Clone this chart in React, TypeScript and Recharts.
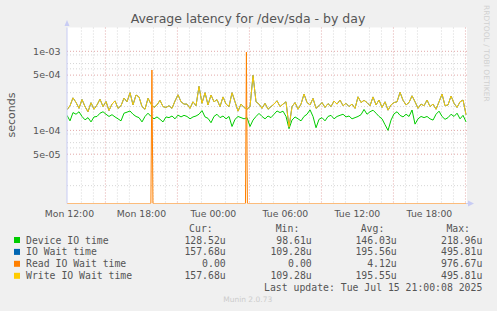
import { LineChart, Line, XAxis, YAxis, CartesianGrid } from 'recharts';

// 5-min munin samples, read here every 15 min (hours since Mon 00:00)
const START = 11.8;
const STEP = 0.25;

// microseconds
const deviceIo = [
  155, 132, 168, 160, 172, 150, 136, 145, 128, 148,
  150, 165, 172, 160, 150, 158, 148, 140, 132, 165,
  170, 176, 160, 150, 145, 128, 150, 165, 150, 140,
  148, 138, 128, 148, 145, 152, 140, 156, 148, 155,
  150, 140, 148, 152, 160, 178, 148, 142, 125, 150,
  160, 145, 152, 140, 150, 112, 138, 150, 145, 140,
  145, 112, 135, 150, 164, 150, 140, 152, 145, 160,
  176, 168, 175, 150, 105, 135, 148, 140, 132, 150,
  160, 182, 150, 108, 138, 145, 132, 150, 155, 140,
  150, 155, 160, 148, 152, 140, 145, 150, 158, 184,
  160, 172, 180, 165, 150, 140, 118, 100, 135, 162,
  172, 155, 148, 160, 150, 181, 120, 140, 150, 145,
  150, 140, 135, 160, 175, 150, 138, 145, 160, 150, 165, 140, 155, 128,
];

const writeWait = [
  182, 205, 258, 226, 190, 246, 200, 172, 224, 185,
  210, 248, 200, 232, 178, 215, 236, 190, 205, 256,
  230, 300, 210, 280, 265, 200, 185, 255, 215, 195,
  210, 240, 200, 195, 205, 190, 235, 282, 230, 215,
  215, 190, 230, 205, 360, 220, 300, 210, 280, 230,
  245, 200, 265, 215, 200, 300, 230, 175, 215, 195,
  185, 200, 496, 230, 215, 190, 220, 185, 200, 215,
  237, 200, 215, 230, 110, 200, 225, 185, 215, 288,
  225, 210, 254, 190, 205, 225, 195, 218, 200, 235,
  215, 242, 205, 220, 200, 215, 190, 266, 225, 240,
  225, 205, 265, 210, 242, 195, 230, 180, 210, 225,
  230, 303, 240, 210, 225, 274, 230, 190, 215, 205,
  242, 200, 215, 185, 230, 288, 205, 210, 272, 220, 195, 230, 242, 158,
];

// IO Wait coincides with Write IO Wait (drawn underneath it)
const ioWait = writeWait;

// Read IO wait is zero except for two short spikes
const readTimes = [11.8, 18.79, 18.875, 18.96, 26.67, 26.75, 26.83, 45.05];
const readWait = [0, 0, 580, 0, 0, 977, 0, 0];

const xTicks = [12, 18, 24, 30, 36, 42];
const xTickLabels = ['Mon 12:00', 'Mon 18:00', 'Tue 00:00', 'Tue 06:00', 'Tue 12:00', 'Tue 18:00'];
const yTicks = [5e-5, 1e-4, 5e-4, 1e-3];
const yTickLabels = ['5e-05', '1e-04', '5e-04', '1e-03'];
const yMinor = [2e-5, 3e-5, 4e-5, 6e-5, 7e-5, 8e-5, 9e-5, 2e-4, 3e-4, 4e-4, 6e-4, 7e-4, 8e-4, 9e-4];

const legendNames = ['Device IO time', 'IO Wait time', 'Read IO Wait time', 'Write IO Wait time'];
const legendColors = ['#00cc00', '#0066b3', '#ff8000', '#ffcc00'];
const legendCur = ['128.52u', '157.68u', '  0.00 ', '157.68u'];
const legendMin = [' 98.61u', '109.28u', '  0.00 ', '109.28u'];
const legendAvg = ['146.03u', '195.56u', '  4.12u', '195.55u'];
const legendMax = ['218.96u', '495.81u', '976.67u', '495.81u'];

const Y_MIN = 1.19e-5;
const Y_MAX = 2e-3;
const X_MIN = 11.8;
const X_MAX = 45.13;

const rows = deviceIo.map((d, i) => ({
  t: START + i * STEP,
  device: d / 1e6,
  io: ioWait[i] / 1e6,
  write: writeWait[i] / 1e6,
}));
// log axis: zero is drawn on the bottom edge
const readRows = readTimes.map((t, i) => ({ t, read: readWait[i] > 0 ? readWait[i] / 1e6 : Y_MIN }));

const hours: number[] = [];
for (let h = 12; h <= 45; h++) hours.push(h);
const xMajor = hours.filter((h) => h % 3 === 0);
const xMinor = hours.filter((h) => h % 3 !== 0);

const font = 'DejaVu Sans, sans-serif';
const mono = 'DejaVu Sans Mono, monospace';
const axisColor = '#c8ccf4';
const textColor = '#555';

export default function App() {
  const rowY = [243.5, 255.4, 267.3, 279.3];
  return (
    <div style={{ position: 'absolute', left: 0, top: 0, width: 497, height: 311, background: '#f0f0f0' }}>
      <LineChart
        width={497}
        height={311}
        data={rows}
        margin={{ top: 27.5, right: 30, bottom: 77.5, left: 7 }}
      >
        <CartesianGrid
          fill="#fff"
          stroke="#d6d6d6"
          strokeDasharray="1 2"
          horizontalValues={yMinor}
          verticalValues={xMinor}
        />
        <CartesianGrid
          fillOpacity={0}
          stroke="#e2a8a8"
          strokeDasharray="1 2"
          horizontalValues={yTicks}
          verticalValues={xMajor}
        />
        <XAxis
          dataKey="t"
          type="number"
          domain={[X_MIN, X_MAX]}
          allowDataOverflow
          ticks={xTicks}
          tickFormatter={(v) => xTickLabels[xTicks.indexOf(v)] ?? ''}
          height={30}
          tickSize={0}
          tickMargin={6.5}
          axisLine={false}
          tick={{ fill: textColor, fontSize: 9.3, fontFamily: font }}
        />
        <YAxis
          type="number"
          scale="log"
          domain={[Y_MIN, Y_MAX]}
          allowDataOverflow
          ticks={yTicks}
          tickFormatter={(v) => yTickLabels[yTicks.indexOf(v)] ?? ''}
          width={60}
          tickSize={0}
          tickMargin={6.5}
          axisLine={{ stroke: axisColor }}
          tick={{ fill: textColor, fontSize: 9.5, fontFamily: font }}
        />
        <Line dataKey="device" stroke="#00cc00" strokeWidth={1} dot={false} isAnimationActive={false} />
        <Line dataKey="io" stroke="#0066b3" strokeWidth={1} dot={false} isAnimationActive={false} />
        <Line data={readRows} dataKey="read" stroke="#ff8000" strokeWidth={1} dot={false} isAnimationActive={false} />
        <Line dataKey="write" stroke="#ffcc00" strokeWidth={1} dot={false} isAnimationActive={false} />
      </LineChart>

      <svg
        width={497}
        height={311}
        style={{ position: 'absolute', left: 0, top: 0, pointerEvents: 'none' }}
      >
        <text x={248} y={23.4} textAnchor="middle" fontFamily={font} fontSize={12.5} fill={textColor}>
          Average latency for /dev/sda - by day
        </text>
        <text
          x={15}
          y={115}
          textAnchor="middle"
          fontFamily={font}
          fontSize={11}
          fill={textColor}
          transform="rotate(-90 15 115)"
        >
          seconds
        </text>
        <text
          x={484}
          y={5}
          fontFamily={font}
          fontSize={7.5}
          fill="#d0d0d0"
          transform="rotate(90 484 5)"
        >
          RRDTOOL / TOBI OETIKER
        </text>
        <polygon points="64.5,26 69.5,26 67,20" fill={axisColor} />
        <line x1={466} y1={203.5} x2={468} y2={203.5} stroke={axisColor} />
        <polygon points="468,200.5 468,206.5 474,203.5" fill={axisColor} />

        <g fontFamily={mono} fontSize={9.8} fill={textColor} style={{ whiteSpace: 'pre' }}>
          <text x={212.7} y={231.5} textAnchor="end">Cur:</text>
          <text x={299.3} y={231.5} textAnchor="end">Min:</text>
          <text x={384.3} y={231.5} textAnchor="end">Avg:</text>
          <text x={470} y={231.5} textAnchor="end">Max:</text>
          {legendNames.map((name, i) => (
            <g key={name}>
              <rect x={14} y={rowY[i] - 6.5} width={6} height={6} fill={legendColors[i]} />
              <text x={26} y={rowY[i]}>{name}</text>
              <text x={225.7} y={rowY[i]} textAnchor="end">{legendCur[i]}</text>
              <text x={311.7} y={rowY[i]} textAnchor="end">{legendMin[i]}</text>
              <text x={396.7} y={rowY[i]} textAnchor="end">{legendAvg[i]}</text>
              <text x={482.3} y={rowY[i]} textAnchor="end">{legendMax[i]}</text>
            </g>
          ))}
          <text x={482.3} y={291.3} textAnchor="end">Last update: Tue Jul 15 21:00:08 2025</text>
        </g>
        <text x={247.7} y={302} textAnchor="middle" fontFamily={font} fontSize={7.5} fill="#cccccc">
          Munin 2.0.73
        </text>
      </svg>
    </div>
  );
}
